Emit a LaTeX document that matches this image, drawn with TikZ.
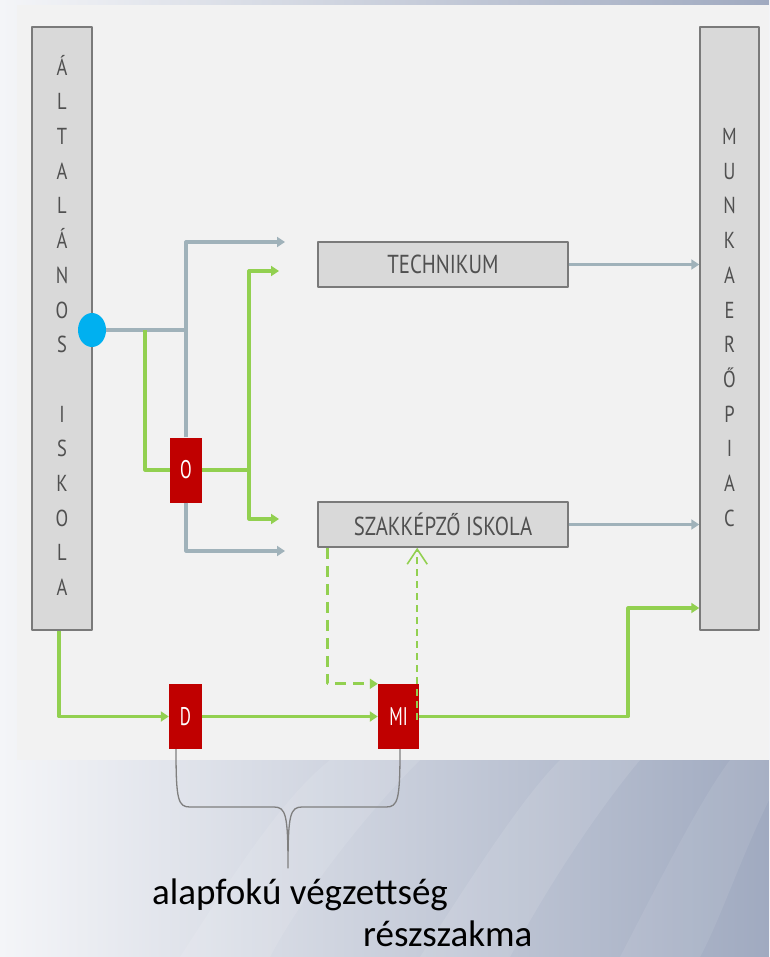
\documentclass[tikz,border=0pt]{standalone}
\usepackage{fontspec}
\setmainfont{PT Sans}
\newfontfamily\calfont{Carlito}
\usepackage{graphicx}
\usetikzlibrary{arrows.meta,shapes.geometric}
\definecolor{pan}{HTML}{F2F2F2}
\definecolor{boxfill}{HTML}{D9D9D9}
\definecolor{boxline}{HTML}{7A7A7A}
\definecolor{txtgray}{HTML}{505050}
\definecolor{flowgray}{HTML}{A0B2BA}
\definecolor{flowgreen}{HTML}{92D050}
\definecolor{darkred}{HTML}{C00000}
\definecolor{dotblue}{HTML}{00B0F0}
\definecolor{bgL}{HTML}{F4F5F8}
\definecolor{bgR}{HTML}{A0AAC0}
\definecolor{bracegray}{HTML}{7F7F7F}
\newcommand{\vstack}[1]{\scalebox{1}[1.25]{\fontsize{18.5}{27.76}\selectfont\begin{tabular}{@{}c@{}}#1\end{tabular}}}
\begin{document}
\begin{tikzpicture}[x=1pt,y=-1pt,line join=round,
 bar/.style={draw=boxline,line width=1.5pt,fill=boxfill,minimum width=60pt,minimum height=603pt,inner sep=0pt,text=txtgray,align=center},
 school/.style={draw=boxline,line width=1.5pt,fill=boxfill,minimum width=250pt,minimum height=45pt,inner sep=0pt,text=txtgray,font=\fontsize{20.8}{22}\selectfont},
 redbox/.style={fill=darkred,minimum width=33pt,minimum height=65pt,inner sep=0pt,text=white,font=\fontsize{17}{18}\selectfont},
 grayflow/.style={draw=flowgray,line width=3.2pt},
 greenflow/.style={draw=flowgreen,line width=3.2pt},
 tip/.style={-{Triangle[length=8pt,width=10pt]}},
 opentip/.style={-{Straight Barb[length=15pt,width=20pt,line width=1.6pt]}},
 dashA/.style={dash pattern=on 11pt off 7pt},
 dashB/.style={dash pattern=on 7pt off 5pt},
 label/.style={anchor=base west,inner sep=0pt,text=black,font=\calfont\fontsize{37}{37}\selectfont}
]
\useasboundingbox (0,0) rectangle (769,957);
% background
\shade[left color=bgL,right color=bgR] (0,0) rectangle (769,957);
\fill[white,opacity=0.10] (180,957) .. controls (230,880) and (280,800) .. (330,760) -- (420,760) .. controls (360,820) and (300,900) .. (270,957) -- cycle;
\fill[white,opacity=0.10] (420,957) .. controls (470,880) and (520,800) .. (560,760) -- (640,760) .. controls (590,820) and (540,900) .. (510,957) -- cycle;
\fill[white,opacity=0.08] (620,957) .. controls (660,880) and (700,800) .. (730,760) -- (769,760) -- (769,800) .. controls (740,860) and (720,920) .. (700,957) -- cycle;
\fill[pan] (17,5) rectangle (769,760);

% bars
\node[bar] (ai) at (62,328.5) {\vstack{Á\\L\\T\\A\\L\\Á\\N\\O\\S\\[27.76pt]I\\S\\K\\O\\L\\A}};
\node[bar,minimum width=59pt] (mp) at (729.5,328.5) {\vstack{M\\U\\N\\K\\A\\E\\R\\Ő\\P\\I\\A\\C}};

% schools
\node[school] (tech) at (443,264.5) {\scalebox{1}[1.25]{TECHNIKUM}};
\node[school] (szak) at (443,524.5) {\scalebox{1}[1.25]{SZAKKÉPZŐ ISKOLA}};

% red boxes
\node[redbox,minimum width=32pt] (O) at (186,470) {\scalebox{1}[1.5]{O}};
\node[redbox] (D) at (185.5,716.5) {\scalebox{1}[1.5]{D}};
\node[redbox,minimum width=41pt] (MI) at (398.5,716.5) {\scalebox{1}[1.5]{MI}};

% dot
\node[ellipse,fill=dotblue,minimum width=28pt,minimum height=34pt,inner sep=0pt] (dot) at (92,330) {};

% helper coordinates
\coordinate (j1) at (186,330);
\coordinate (j2) at (145,330);
\coordinate (tT) at (285,242);
\coordinate (tS) at (285,551);
\coordinate (gT) at (279,271);
\coordinate (gS) at (279,519);
\coordinate (gJ) at (249,470);
\coordinate (jR) at (628,608);

% gray flows
\draw[grayflow] (dot.east) -- (j1);
\draw[grayflow,tip] (O.north) |- (tT);
\draw[grayflow,tip] (O.south) |- (tS);
\draw[grayflow,tip] (tech.east) -- (tech.east -| mp.west);
\draw[grayflow,tip] (szak.east) -- (szak.east -| mp.west);

% green flows
\draw[greenflow] (j2) |- (O.west);
\draw[greenflow] (O.east) -- (gJ);
\draw[greenflow,tip] (gJ) |- (gT);
\draw[greenflow,tip] (gJ) |- (gS);
\draw[greenflow,tip] ([xshift=-3pt]ai.south) |- (D.west);
\draw[greenflow,tip] (D.east) -- (MI.west);
\draw[greenflow,tip] (MI.east) -| (jR) -- (jR -| mp.west);

% dashed
\draw[greenflow,dashA,tip] ([xshift=10pt]szak.south west) |- (MI.north west);
\coordinate (up0) at ([xshift=-2pt,yshift=-3pt]MI.east);
\draw[greenflow,line width=2.5pt,dashB,opentip] (up0) -- (up0 |- szak.south);

% brace
\coordinate (bl) at ([xshift=-9.5pt]D.south);
\coordinate (br) at ([xshift=1.5pt]MI.south);
\draw[bracegray,line width=1.3pt] (bl) .. controls (176,800) and (178,807) .. (190,807) -- (274,807) .. controls (286,807) and (288,815) .. (288,868)
  .. controls (288,815) and (290,807) .. (302,807) -- (386,807) .. controls (398,807) and (400,800) .. (br);

% labels
\node[label] (t1) at (152,904) {alapfokú végzettség};
\node[label] (t2) at (363,946) {részszakma};
\end{tikzpicture}
\end{document}
